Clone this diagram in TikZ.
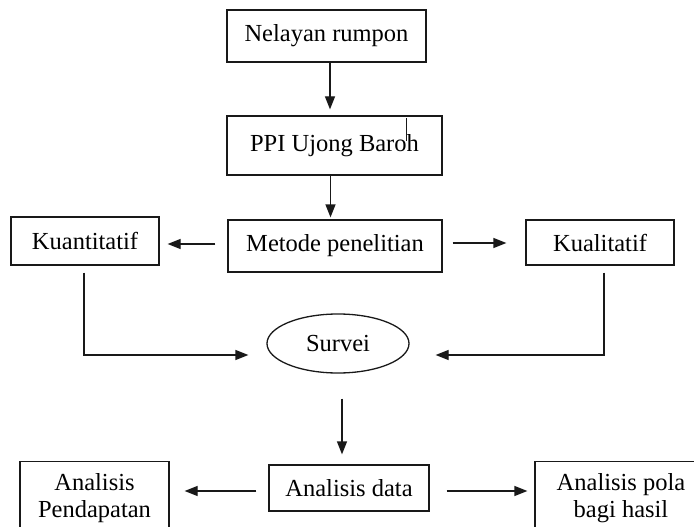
\documentclass[tikz,border=0pt]{standalone}
\usepackage{fontspec}
\setmainfont{Liberation Serif}
\usetikzlibrary{arrows.meta,calc,shapes.geometric}
\begin{document}
\begin{tikzpicture}[x=1pt,y=-1pt,
  every node/.style={font=\fontsize{24.5}{27}\selectfont},
  box/.style={draw=black!90,line width=1.3pt,inner sep=0pt,align=center},
  oval/.style={draw=black!90,line width=1.3pt,ellipse,inner sep=0pt},
  words/.style={inner sep=0pt,align=center},
  arr/.style={draw=black!90,line width=1.3pt,-{Triangle[length=13pt,width=10pt]}}]
\clip (0,0) rectangle (694,527);
\fill[white] (0,0) rectangle (694,527);

% boxes of the flow
\node[box,minimum width=199pt,minimum height=52pt] (nel) at (326.5,36) {Nelayan rumpon};
\node[box,minimum width=215pt,minimum height=59pt] (ppi) at (334.5,145.5) {PPI Ujong Baroh};
\node[box,minimum width=214pt,minimum height=52pt] (met) at (335,246) {Metode penelitian};
\node[box,minimum width=148pt,minimum height=48pt] (kuan) at (85,241) {Kuantitatif};
\node[box,minimum width=148pt,minimum height=45pt] (kual) at (600,242.5) {Kualitatif};
\node[oval,minimum width=142pt,minimum height=59pt] (sur) at (338,343.5) {Survei};
\node[box,minimum width=160pt,minimum height=46pt] (data) at (349,488) {Analisis data};

% side boxes of the last row run past the lower edge
\node[box,anchor=north,minimum width=149pt,minimum height=100pt] (pend) at (94.5,461) {};
\node[words] (pendtxt) at (94.5,498) {Analisis\\Pendapatan};
\node[box,anchor=north,minimum width=172pt,minimum height=100pt] (pola) at (621,461) {};
\node[words] (polatxt) at (621,498) {Analisis pola\\bagi hasil};

% small stroke over the last letter
\draw[black!90,line width=1pt] ($(ppi.north)+(71.5,3)$) -- ++(0,23);

% connectors
\draw[arr,shorten >=6pt] ([xshift=3.5pt]nel.south) -- ([xshift=3.5pt]nel.south |- ppi.north);
\draw[arr,shorten >=2pt] ([xshift=-4pt]ppi.south) -- ([xshift=-4pt]ppi.south |- met.north);
\draw[arr,shorten <=12pt,shorten >=8pt] ([yshift=2pt]met.west) -- ([yshift=2pt]met.west -| kuan.east);
\draw[arr,shorten <=10pt,shorten >=19pt] ([yshift=3pt]met.east) -- ([yshift=3pt]met.east -| kual.west);

\coordinate (sl) at ($(sur.west)+(-18,11.5)$);
\coordinate (sr) at ($(sur.east)+(26,11.5)$);
\draw[arr,shorten <=7pt] ([xshift=-1pt]kuan.south) |- (sl);
\draw[arr,shorten <=7pt] ([xshift=4pt]kual.south) |- (sr);

\draw[arr,shorten <=25pt,shorten >=10pt] ([xshift=4pt]sur.south) -- ([xshift=4pt]sur.south |- data.north);
\draw[arr,shorten <=12pt,shorten >=15pt] ([yshift=-3pt]data.west) -- ([yshift=-3pt]data.west -| pend.east);
\draw[arr,shorten <=17pt,shorten >=7pt] ([yshift=-3pt]data.east) -- ([yshift=-3pt]data.east -| pola.west);
\end{tikzpicture}
\end{document}
